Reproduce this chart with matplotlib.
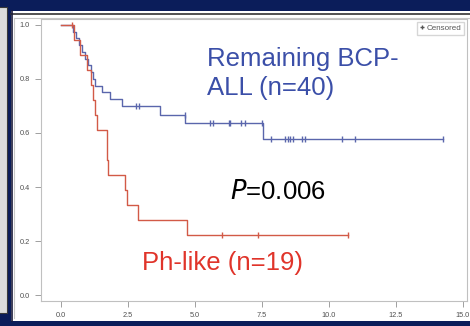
import matplotlib
matplotlib.use('Agg')
import matplotlib.pyplot as plt
import numpy as np
from matplotlib.patches import Rectangle
from matplotlib.lines import Line2D

plt.rcParams['font.family'] = ['Liberation Sans', 'DejaVu Sans']

# ---- data ----
blue_times = [0, 0.46, 0.56, 0.66, 0.77, 0.90, 1.02, 1.10, 1.20, 1.27, 1.53, 1.83, 2.28, 3.70, 4.63, 7.54, 14.25]
blue_surv = [1.0, 0.975, 0.95, 0.925, 0.90, 0.875, 0.85, 0.825, 0.80, 0.775, 0.75, 0.725, 0.70, 0.665, 0.637, 0.578, 0.578]
blue_censor = [2.8, 2.9, 4.62, 5.56, 5.68, 6.25, 6.32, 6.7, 6.85, 7.5, 7.84, 8.36, 8.46, 8.56, 8.66, 9.0, 9.12, 10.5, 10.97, 14.25]

red_times = [0, 0.5, 0.7, 0.95, 1.1, 1.2, 1.27, 1.35, 1.72, 1.76, 2.39, 2.46, 2.87, 4.7, 10.7]
red_surv = [1.0, 0.944, 0.889, 0.833, 0.778, 0.722, 0.667, 0.611, 0.5, 0.444, 0.389, 0.333, 0.278, 0.222, 0.222]
red_censor = [0.4, 6.0, 7.35, 10.7]

x_ticks = [0.0, 2.5, 5.0, 7.5, 10.0, 12.5, 15.0]
y_ticks = [0.0, 0.2, 0.4, 0.6, 0.8, 1.0]

blue_label = "Remaining BCP-\nALL (n=40)"
red_label = "Ph-like (n=19)"
p_label = "$\\mathit{P}$=0.006"

W, H = 470, 326
fig = plt.figure(figsize=(W / 100, H / 100), dpi=100, facecolor='#0b1d5a')

def fx(px):
    return px / W

def fy(py):
    return 1 - py / H

# left grey strip (neighbouring panel)
fig.patches.append(Rectangle((fx(-2), fy(313)), fx(9), fy(7) - fy(313), transform=fig.transFigure,
                             fc='#dcdcdc', ec='#3a3a3a', lw=0.8, zorder=-3))
# white panel
fig.patches.append(Rectangle((fx(11), fy(321)), fx(470) - fx(11), fy(11) - fy(321), transform=fig.transFigure,
                             fc='white', ec='none', zorder=-3))
fig.lines.append(Line2D([fx(11), fx(470)], [fy(13.5), fy(13.5)], transform=fig.transFigure,
                        color='#333333', lw=1.2, zorder=-2))
fig.lines.append(Line2D([fx(11.5), fx(11.5)], [fy(321), fy(11)], transform=fig.transFigure,
                        color='#1a1a3a', lw=1.2, zorder=-2))
fig.lines.append(Line2D([fx(13.5), fx(470)], [fy(17.5), fy(17.5)], transform=fig.transFigure,
                        color='#c8c8c8', lw=0.8, zorder=-2))
fig.lines.append(Line2D([fx(13.5), fx(13.5)], [fy(318), fy(17.5)], transform=fig.transFigure,
                        color='#c8c8c8', lw=0.8, zorder=-2))

ax = fig.add_axes([fx(41), fy(301), fx(467) - fx(41), fy(19) - fy(301)])
ax.set_zorder(1)
ax.set_facecolor('white')
ax.set_xlim(-0.75, 15.15)
ax.set_ylim(-0.022, 1.022)

blue_c = '#5a66ac'
red_c = '#d25a47'
ax.step(blue_times, blue_surv, where='post', color=blue_c, lw=1.0)
ax.step(red_times, red_surv, where='post', color=red_c, lw=1.0)

def step_val(times, surv, t):
    i = np.searchsorted(times, t, side='right') - 1
    return surv[i]

bc_y = [step_val(blue_times, blue_surv, t) for t in blue_censor]
rc_y = [step_val(red_times, red_surv, t) for t in red_censor]
ax.plot(blue_censor, bc_y, ls='none', marker='|', color=blue_c, markersize=4.5, mew=1.0)
ax.plot(red_censor, rc_y, ls='none', marker='|', color=red_c, markersize=4.5, mew=1.0)

for s in ax.spines.values():
    s.set_color('#c0c0c0')
    s.set_linewidth(0.8)

ax.set_xticks(x_ticks)
ax.set_yticks(y_ticks)
ax.set_xticklabels([f"{v:.1f}" for v in x_ticks])
ax.set_yticklabels([f"{v:.1f}" for v in y_ticks])
ax.tick_params(axis='both', direction='out', length=4, width=0.7, color='#a0a0a0',
               labelsize=5.3, labelcolor='#505050', pad=4)

ax.legend(handles=[Line2D([], [], marker='+', ls='none', color='#555555', markersize=3.5, label='Censored')],
          loc='upper right', fontsize=5.8, frameon=True, fancybox=False, edgecolor='#cccccc',
          handlelength=0.6, handletextpad=0.3, borderpad=0.35, borderaxespad=0.35,
          labelcolor='#555555')

fig.text(fx(207), fy(95), blue_label, color='#3b4fa8', fontsize=18.5, ha='left', va='baseline',
         linespacing=1.27, zorder=5)
fig.text(fx(230), fy(199), p_label, color='black', fontsize=18.5, ha='left', va='baseline', zorder=5)
fig.text(fx(142), fy(270), red_label, color='#e0342a', fontsize=18.5, ha='left', va='baseline', zorder=5)

fig.savefig('out.png', dpi=100, facecolor=fig.get_facecolor())
